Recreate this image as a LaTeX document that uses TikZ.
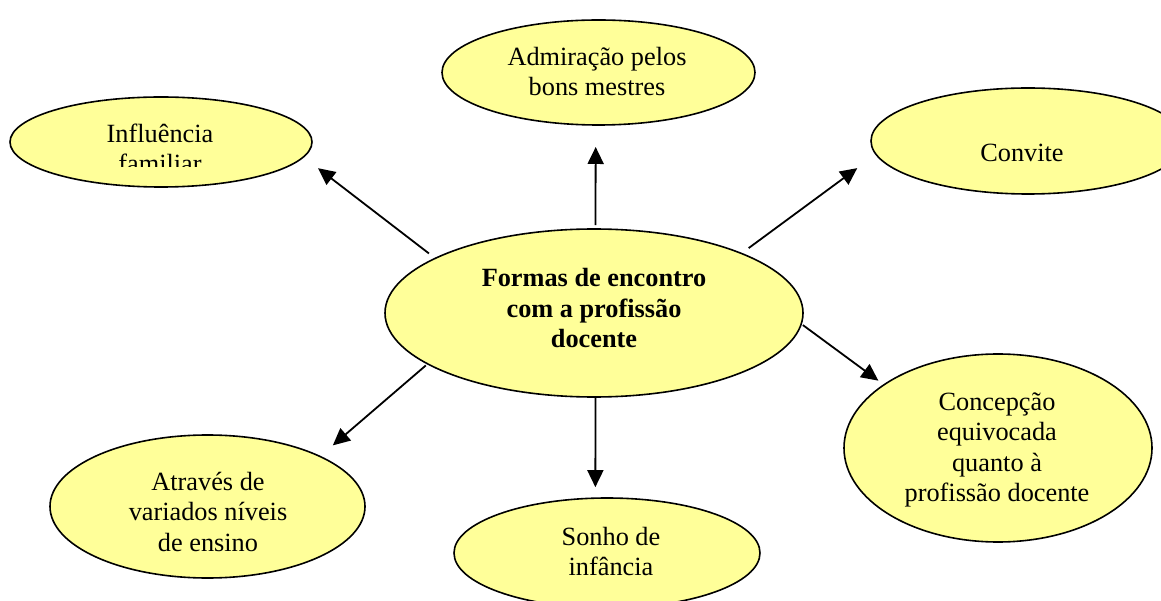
\documentclass[tikz,border=0pt]{standalone}
\usepackage{fontspec}
\setmainfont{Liberation Serif}
\usetikzlibrary{arrows.meta,shapes.geometric}
\definecolor{bub}{HTML}{FFFF99}
\begin{document}
\begin{tikzpicture}[x=1pt,y=-1pt,
  bubble/.style={ellipse,draw=black,fill=bub,line width=1.6pt,inner sep=0pt,outer sep=0pt},
  txt/.style={align=center,font=\fontsize{26.3}{30.5}\selectfont,inner sep=0pt},
  arr/.style={line width=1.8pt,-{Triangle[length=17pt,width=16pt]}}]
\useasboundingbox (0,0) rectangle (1161,601);
\clip (0,0) rectangle (1161,601);
% bubbles
\node[bubble,minimum width=302pt,minimum height=90pt]  (infl) at (161,142) {};
\node[bubble,minimum width=313pt,minimum height=105pt] (adm)  at (598.5,72.5) {};
\node[bubble,minimum width=314pt,minimum height=106pt] (conv) at (1028,141) {};
\node[bubble,minimum width=418pt,minimum height=168pt] (ctr)  at (594,313) {};
\node[bubble,minimum width=308pt,minimum height=188pt] (conc) at (998,448) {};
\node[bubble,minimum width=306pt,minimum height=110pt] (sonho) at (607,553) {};
\node[bubble,minimum width=315pt,minimum height=143pt] (atr)  at (207.5,506.5) {};
% texts
\begin{scope}
\clip (0,0) rectangle (1161,167);
\node[txt] (infl-t) at (160,148.3) {Influência\\familiar};
\end{scope}
\node[txt] (adm-t) at (597,71.3) {Admiração pelos\\bons mestres};
\node[txt,anchor=base] (conv-t) at (1022,162) {Convite};
\node[txt,font=\fontsize{26.3}{30.5}\selectfont\bfseries] (ctr-t) at (594,308.5) {Formas de encontro\\com a profissão\\docente};
\node[txt] (conc-t) at (997,449.7) {Concepção\\equivocada\\quanto à\\profissão docente};
\node[txt] (sonho-t) at (611,551.3) {Sonho de\\infância};
\node[txt] (atr-t) at (208,511.5) {Através de\\variados níveis\\de ensino};
% connectors
\draw[arr,shorten <=8pt,shorten >=18.4pt] (ctr.161.3) -- (infl.-6.4);
\draw[arr,shorten <=4pt,shorten >=22pt] (ctr.89.3) -- (adm.-93.8);
\draw[arr,shorten <=9pt,shorten >=23.3pt] (ctr.22.2) -- (conv.185.4);
\draw[arr,shorten <=2pt,shorten >=7pt] (ctr.-3) -- (conc.151.2);
\draw[arr,shorten <=1pt,shorten >=11pt] (ctr.-89.3) -- (sonho.102.4);
\draw[arr,shorten <=2.4pt,shorten >=17pt] (ctr.-163.2) -- (atr.24.3);
\end{tikzpicture}
\end{document}
